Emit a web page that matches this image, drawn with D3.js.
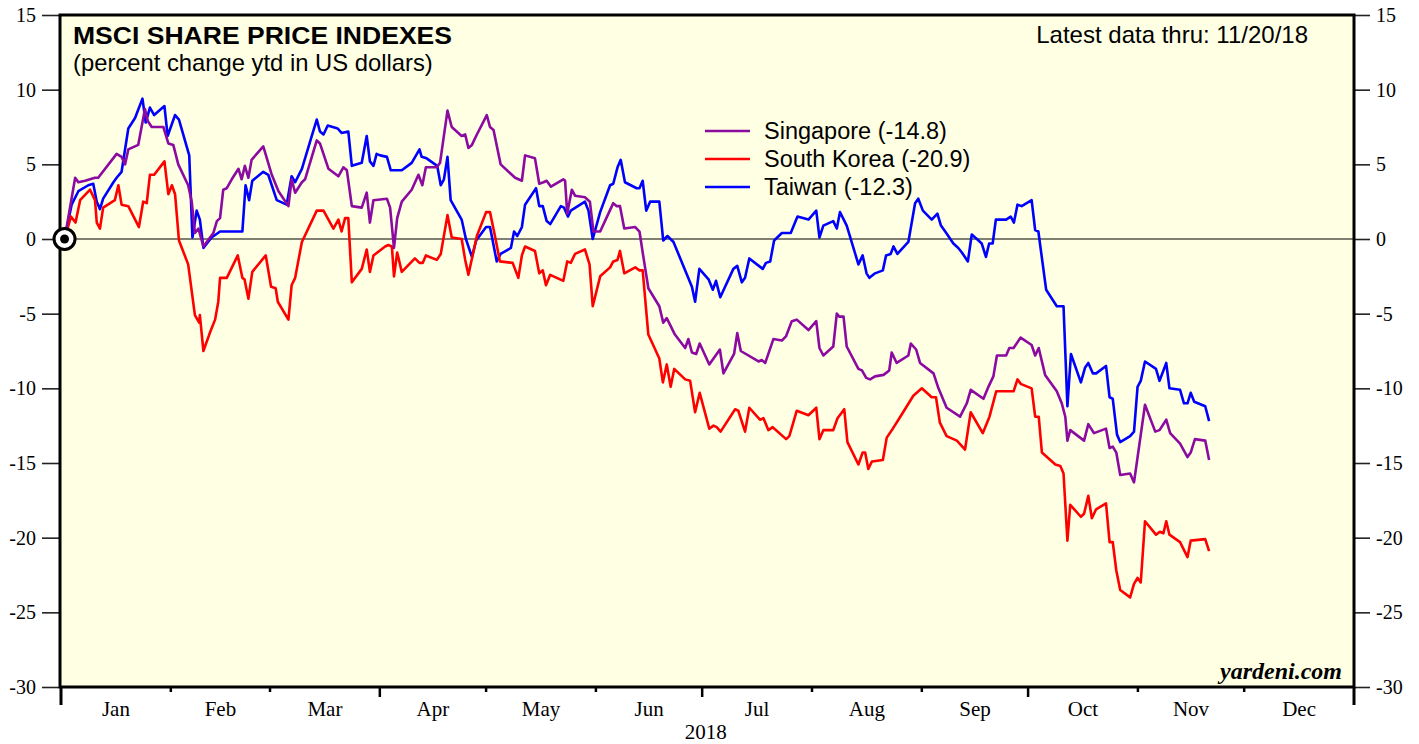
<!DOCTYPE html>
<html>
<head>
<meta charset="utf-8">
<script src="https://cdn.jsdelivr.net/npm/d3@7"></script>
<style>
  body { margin: 0; background: #fff; }
</style>
</head>
<body>
<div id="chart"></div>
<script>
// Data: [day of year 2018, percent change ytd]
const singapore = [[1,0],[1.6,0.8],[4.0,4.1],[4.9,3.8],[6.8,3.9],[9.6,4.1],[10.5,4.1],[15.7,5.7],[17.1,5.5],[18.1,5.0],[19.0,6.0],[21.8,6.3],[23.7,8.7],[24.5,7.9],[25.6,7.5],[28.9,7.5],[30.3,6.4],[31.7,6.3],[33.1,5.0],[35.9,3.6],[36.9,2.5],[37.8,0.4],[38.8,0.7],[40.2,-0.5],[43.0,0.4],[44.0,1.2],[44.9,1.4],[45.8,3.3],[46.8,3.4],[48.2,4.0],[50.1,4.7],[51.0,4.0],[51.9,4.9],[52.9,4.1],[53.8,5.3],[57.1,6.2],[59.5,4.3],[61.4,3.2],[64.2,2.2],[65.1,4.0],[66.1,3.1],[68.0,3.8],[68.9,4.0],[72.2,6.6],[73.1,6.4],[75.5,4.7],[78.3,4.2],[79.7,4.8],[80.7,4.6],[82.1,2.2],[84.9,2.1],[86.3,3.1],[87.2,1.1],[88.2,2.6],[92.0,2.7],[92.9,2.1],[94.0,-0.6],[94.9,1.4],[96.2,2.5],[99.0,3.3],[100.9,4.3],[102.0,3.6],[103.0,4.8],[106.1,4.8],[107.0,5.1],[109.1,8.6],[110.3,7.5],[113.1,6.9],[114.1,7.0],[115.0,6.1],[116.0,6.3],[117.4,7.0],[120.2,8.3],[121.1,7.5],[122.1,7.3],[124.1,5.0],[126.8,4.4],[128.2,4.1],[130.1,3.9],[131.0,5.6],[133.8,5.4],[135.0,3.7],[136.2,3.8],[137.1,3.9],[138.3,3.5],[141.8,4.0],[142.3,3.9],[142.9,1.7],[144.2,3.3],[145.1,2.9],[147.9,2.8],[149.3,2.5],[150.3,0.5],[152.2,0.5],[155.9,2.4],[156.9,2.2],[157.8,2.2],[159.0,0.7],[162.1,0.8],[163.3,0.5],[164.4,-1.2],[165.8,-3.3],[168.9,-4.5],[170.0,-5.6],[171.0,-5.3],[173.3,-6.4],[176.2,-7.3],[177.1,-6.7],[178.1,-7.6],[179.3,-7.7],[180.3,-7.0],[183.0,-8.4],[186.0,-7.4],[187.0,-9.0],[190.0,-7.7],[190.9,-6.3],[191.9,-7.5],[196.9,-8.2],[197.8,-8.1],[198.8,-8.3],[201.1,-6.7],[203.5,-6.8],[204.7,-6.5],[206.3,-5.5],[207.7,-5.4],[211.0,-6.1],[213.2,-5.5],[214.1,-7.3],[215.2,-7.8],[218.0,-7.2],[219.0,-5.0],[219.7,-5.2],[220.9,-5.2],[221.8,-7.2],[225.1,-8.7],[226.1,-8.8],[227.3,-9.3],[228.4,-9.4],[229.8,-9.2],[232.2,-9.1],[233.8,-8.8],[234.5,-7.6],[235.9,-8.3],[239.2,-7.8],[239.9,-7.0],[241.4,-7.4],[242.5,-8.3],[246.3,-9.0],[247.7,-10.0],[250.0,-11.3],[253.8,-11.9],[255.7,-11.0],[256.8,-10.1],[260.4,-10.7],[261.8,-9.9],[263.2,-9.2],[264.2,-7.8],[266.8,-7.8],[267.7,-7.3],[268.9,-7.3],[270.9,-6.6],[274.0,-7.1],[275.0,-7.8],[276.0,-7.3],[277.8,-9.1],[281.1,-10.2],[282.5,-11.0],[283.5,-11.9],[284.1,-13.5],[284.9,-12.8],[288.8,-13.5],[290.0,-12.4],[291.6,-13.0],[295.0,-12.7],[296.0,-14.0],[296.9,-13.9],[297.9,-14.3],[299.0,-15.8],[301.8,-15.7],[302.9,-16.3],[306.0,-11.1],[308.9,-12.9],[310.1,-12.8],[312.0,-12.1],[313.1,-13.0],[315.9,-13.7],[318.0,-14.6],[318.9,-14.3],[320.1,-13.4],[323.0,-13.5],[324.1,-14.8]];

const southKorea = [[1,0],[2.8,1.5],[4.1,1.1],[5.4,2.6],[8.2,3.3],[9.6,2.6],[10.1,1.1],[11.0,0.7],[11.9,2.1],[15.2,2.6],[16.2,3.6],[17.1,2.3],[19.0,2.2],[22.0,0.8],[23.2,2.5],[24.2,2.4],[25.1,4.3],[26.3,4.3],[29.2,5.2],[30.3,3.0],[31.3,3.6],[32.2,3.0],[33.3,-0.1],[35.9,-1.7],[37.8,-5.1],[39.0,-5.6],[39.2,-5.1],[40.2,-7.5],[42.0,-6.3],[43.5,-5.4],[44.4,-4.2],[44.9,-2.6],[46.8,-2.6],[49.9,-1.1],[51.2,-2.6],[51.8,-2.7],[52.9,-4.0],[54.0,-2.2],[57.8,-1.1],[59.3,-3.2],[60.6,-3.3],[61.2,-4.2],[64.2,-5.4],[65.1,-3.1],[66.1,-2.6],[68.0,-0.2],[72.2,1.9],[74.1,1.9],[76.9,0.7],[78.3,1.3],[79.2,0.5],[80.2,1.4],[81.1,1.4],[82.1,-2.9],[84.9,-2.0],[86.3,-0.7],[87.2,-2.2],[88.2,-1.1],[91.5,-0.5],[92.4,-0.4],[93.4,-0.5],[94.0,-2.5],[94.9,-0.9],[96.2,-2.2],[99.9,-1.3],[101.2,-1.6],[102.1,-1.6],[103.0,-1.1],[106.1,-1.4],[107.2,-1.0],[109.1,1.6],[110.3,0.1],[113.1,0.0],[114.1,-1.4],[115.0,-2.4],[117.4,0.2],[120.0,1.8],[121.1,1.8],[122.5,0.2],[123.9,-1.5],[127.5,-1.6],[129.1,-2.6],[130.1,-1.1],[131.0,-0.5],[133.8,-0.8],[135.0,-2.3],[136.0,-2.1],[136.9,-3.1],[138.1,-2.4],[141.8,-2.8],[142.9,-1.5],[143.9,-1.6],[145.1,-1.0],[147.9,-0.7],[149.2,-1.7],[150.1,-4.5],[152.2,-2.5],[155.0,-1.9],[155.9,-1.5],[157.1,-1.4],[157.8,-0.8],[159.0,-2.3],[162.1,-1.9],[163.3,-2.1],[164.2,-2.1],[165.8,-6.4],[168.9,-8.0],[169.9,-9.6],[171.0,-8.4],[172.1,-9.9],[173.1,-8.7],[176.2,-9.4],[177.6,-9.5],[179.0,-11.6],[180.3,-10.3],[183.0,-12.7],[184.2,-12.5],[185.1,-12.6],[186.2,-12.9],[190.3,-11.4],[191.2,-11.5],[193.1,-12.9],[194.3,-11.3],[197.3,-12.1],[198.3,-12.0],[199.7,-12.8],[200.9,-12.6],[204.7,-13.4],[205.6,-13.2],[207.7,-11.5],[211.0,-11.8],[213.2,-11.3],[214.1,-13.4],[215.2,-12.8],[218.0,-12.8],[219.2,-12.0],[221.1,-11.4],[222.0,-13.6],[225.1,-15.1],[226.3,-14.3],[227.0,-14.3],[227.9,-15.4],[228.9,-14.9],[232.0,-14.8],[233.1,-13.3],[234.8,-12.7],[236.4,-12.1],[240.6,-10.5],[243.0,-10.0],[245.8,-10.6],[247.0,-10.6],[248.1,-12.3],[250.0,-13.2],[252.9,-13.5],[255.2,-14.1],[256.8,-11.6],[260.2,-13.0],[262.1,-11.9],[264.0,-10.2],[268.9,-10.2],[270.0,-9.4],[270.9,-9.7],[274.0,-10.0],[275.0,-11.9],[276.0,-11.9],[276.9,-14.3],[280.7,-15.1],[282.1,-15.2],[283.0,-15.7],[284.1,-20.2],[284.9,-17.8],[287.9,-18.6],[288.8,-18.4],[290.0,-17.2],[291.0,-18.7],[292.2,-18.1],[295.0,-17.7],[296.0,-20.3],[296.9,-20.3],[297.9,-22.2],[299.0,-23.5],[301.8,-24.0],[302.9,-23.1],[303.9,-22.7],[304.8,-23.0],[306.0,-18.9],[309.1,-19.8],[310.2,-19.6],[311.2,-19.7],[312.0,-18.9],[312.9,-19.8],[315.9,-20.3],[318.0,-21.3],[318.9,-20.2],[323.0,-20.1],[324.1,-20.9]];

const taiwan = [[1,0],[3.0,2.3],[4.9,3.2],[7.7,3.6],[9.1,3.7],[10.1,2.5],[11.0,2.0],[11.9,2.7],[14.8,3.8],[15.7,4.1],[17.1,4.5],[19.0,7.4],[20.9,8.1],[23.0,9.4],[23.9,7.8],[25.1,8.8],[26.3,8.3],[29.2,8.9],[30.1,6.9],[32.2,8.3],[33.3,8.0],[36.2,5.6],[37.1,0.1],[38.3,1.9],[39.2,1.3],[40.2,-0.6],[42.5,0.1],[44.9,0.5],[51.2,0.5],[52.1,3.6],[53.1,2.6],[54.0,3.9],[57.1,4.5],[58.5,4.3],[60.9,2.6],[63.7,2.3],[65.1,4.2],[66.1,3.8],[68.0,4.7],[70.8,6.9],[72.2,8.0],[73.1,7.2],[74.1,7.0],[75.3,7.6],[78.1,7.4],[79.2,7.1],[81.1,7.2],[82.1,4.9],[84.9,5.1],[86.3,6.9],[87.2,5.2],[88.2,4.9],[89.1,5.7],[90.1,5.6],[92.0,5.5],[93.1,4.6],[96.2,4.6],[99.0,5.1],[101.2,6.0],[101.8,5.5],[103.2,5.4],[106.2,4.9],[107.2,3.6],[108.1,4.0],[109.1,5.5],[110.0,2.6],[113.1,1.3],[114.3,0.0],[116.0,-1.2],[117.2,-0.1],[120.0,0.8],[121.1,0.8],[123.0,-1.5],[124.1,-1.0],[127.0,-0.6],[127.9,0.5],[128.8,0.2],[130.1,0.8],[131.0,2.3],[134.1,3.4],[135.0,2.2],[136.0,2.2],[137.1,1.2],[138.1,1.0],[141.1,2.2],[142.0,2.1],[143.1,1.5],[143.9,1.9],[147.9,2.5],[148.9,1.9],[150.1,0.0],[152.2,1.8],[155.0,3.6],[155.9,3.7],[157.1,4.8],[158.0,5.3],[159.2,3.8],[162.5,3.4],[163.3,3.4],[164.2,3.9],[165.2,1.9],[166.3,2.5],[168.9,2.5],[170.0,-0.1],[171.2,0.2],[172.9,-0.2],[178.1,-3.2],[179.0,-4.2],[180.2,-2.0],[182.8,-2.7],[184.0,-3.4],[184.9,-2.8],[186.1,-3.9],[189.8,-2.0],[190.9,-1.8],[192.2,-2.9],[193.1,-2.6],[194.3,-1.3],[198.1,-2.0],[199.0,-1.6],[200.2,-1.5],[201.3,-0.1],[203.5,0.4],[206.0,0.4],[207.9,1.5],[211.0,1.3],[213.2,1.9],[214.1,0.1],[215.2,0.9],[218.0,1.2],[219.0,0.7],[219.9,1.8],[221.8,0.9],[225.1,-1.7],[226.3,-1.1],[227.4,-2.3],[228.2,-2.6],[229.8,-2.3],[232.0,-2.1],[232.9,-1.1],[234.2,-1.0],[235.0,-0.5],[236.1,-1.0],[239.2,-0.2],[241.1,2.4],[242.0,2.7],[243.3,1.9],[245.8,1.3],[247.4,1.7],[248.4,0.9],[249.9,0.4],[251.9,-0.3],[253.3,-0.6],[254.3,-0.9],[256.0,-1.5],[257.1,0.3],[259.0,-0.1],[259.9,-0.3],[261.1,-1.2],[262.0,-0.3],[263.0,-0.3],[263.9,1.3],[266.8,1.3],[268.1,1.5],[269.0,1.1],[270.0,2.3],[271.2,2.2],[274.0,2.6],[275.0,0.6],[275.9,0.5],[278.1,-3.4],[281.1,-4.5],[283.0,-4.5],[284.1,-11.2],[285.1,-7.7],[287.9,-9.6],[289.1,-8.6],[290.0,-8.3],[291.3,-9.0],[292.2,-9.0],[295.0,-8.5],[296.0,-10.6],[296.9,-10.7],[298.1,-13.1],[299.0,-13.6],[301.8,-13.2],[302.9,-12.9],[303.9,-9.9],[304.8,-9.5],[306.0,-8.2],[309.1,-8.7],[310.1,-9.5],[312.0,-8.3],[312.9,-10.0],[315.9,-10.1],[317.0,-11.0],[318.0,-11.0],[318.9,-10.3],[319.9,-10.9],[323.0,-11.2],[324.1,-12.2]];

const seriesNames = ["Singapore (-14.8)", "South Korea (-20.9)", "Taiwan (-12.3)"];
const seriesColors = ["#8b0aa0", "#ff0000", "#0000ff"];
const monthLabels = ["Jan","Feb","Mar","Apr","May","Jun","Jul","Aug","Sep","Oct","Nov","Dec"];
const yTicks = [15, 10, 5, 0, -5, -10, -15, -20, -25, -30];

// Setup
const W = 1419, H = 744;
const plot = { left: 60, right: 1354, top: 15, bottom: 687 };
const start = new Date(2018, 0, 1);
const toDate = d => new Date(start.getTime() + d * 864e5);

const svg = d3.select("#chart")
    .append("svg")
    .attr("width", W)
    .attr("height", H);

const x = d3.scaleTime()
    .domain([start, new Date(2019, 0, 1)])
    .range([61, plot.right]);

const y = d3.scaleLinear()
    .domain([-30, 15])
    .range([plot.bottom, plot.top]);

const serif = "'Liberation Serif', 'Times New Roman', serif";
const sans = "'Liberation Sans', Arial, Helvetica, sans-serif";

// Plot background
svg.append("rect")
    .attr("x", plot.left)
    .attr("y", plot.top)
    .attr("width", plot.right - plot.left)
    .attr("height", plot.bottom - plot.top)
    .attr("fill", "#ffffe4");

// Zero line
svg.append("line")
    .attr("x1", plot.left)
    .attr("x2", plot.right)
    .attr("y1", y(0))
    .attr("y2", y(0))
    .attr("stroke", "#000")
    .attr("stroke-width", 1.2);

// Y axes (plain hyphen for negatives, like the original)
const fmt = d => String(d);
const leftAxis = svg.append("g")
    .attr("transform", `translate(${plot.left - 1},0)`)
    .call(d3.axisLeft(y).tickValues(yTicks).tickFormat(fmt).tickSize(17).tickPadding(6));
const rightAxis = svg.append("g")
    .attr("transform", `translate(${plot.right},0)`)
    .call(d3.axisRight(y).tickValues(yTicks).tickFormat(fmt).tickSize(16).tickPadding(6));
[leftAxis, rightAxis].forEach(g => {
    g.select(".domain").remove();
    g.selectAll("line").attr("stroke", "#222").attr("stroke-width", 1.6);
    g.selectAll("text")
        .style("font-family", serif)
        .style("font-size", "20px")
        .attr("fill", "#000");
});

// Bottom month ticks
const months = d3.timeMonth.range(start, new Date(2019, 0, 2));
svg.append("g")
    .selectAll("line")
    .data(months)
    .join("line")
    .attr("x1", d => x(d))
    .attr("x2", d => x(d))
    .attr("y1", plot.bottom)
    .attr("y2", d => plot.bottom + (d.getMonth() === 0 ? 18 : d.getMonth() % 3 === 0 ? 10 : 5))
    .attr("stroke", "#000")
    .attr("stroke-width", d => d.getMonth() === 0 ? 3 : 2.5);

// Month labels, centred in each month
svg.append("g")
    .selectAll("text")
    .data(months.slice(0, 12))
    .join("text")
    .attr("x", d => x(new Date((d.getTime() + d3.timeMonth.offset(d, 1).getTime()) / 2)))
    .attr("y", 716)
    .attr("text-anchor", "middle")
    .style("font-family", serif)
    .style("font-size", "21px")
    .text((d, i) => monthLabels[i]);

svg.append("text")
    .attr("x", x(new Date(2018, 6, 2)))
    .attr("y", 739)
    .attr("text-anchor", "middle")
    .style("font-family", serif)
    .style("font-size", "21px")
    .text("2018");

// Lines
const line = d3.line()
    .x(d => x(toDate(d[0])))
    .y(d => y(d[1]));

[taiwan, southKorea, singapore].forEach((s, i) => {
    const ci = [2, 1, 0][i];
    svg.append("path")
        .datum(s)
        .attr("fill", "none")
        .attr("stroke", seriesColors[ci])
        .attr("stroke-width", 2.6)
        .attr("stroke-linejoin", "round")
        .attr("d", line);
});

// Frame
svg.append("rect")
    .attr("x", plot.left)
    .attr("y", plot.top)
    .attr("width", plot.right - plot.left)
    .attr("height", plot.bottom - plot.top)
    .attr("fill", "none")
    .attr("stroke", "#000")
    .attr("stroke-width", 3);

// Start marker
const s0 = singapore[0];
svg.append("circle")
    .attr("cx", x(toDate(s0[0])))
    .attr("cy", y(s0[1]))
    .attr("r", 10.5)
    .attr("fill", "#fff")
    .attr("stroke", "#000")
    .attr("stroke-width", 3);
svg.append("circle")
    .attr("cx", x(toDate(s0[0])))
    .attr("cy", y(s0[1]))
    .attr("r", 4.5)
    .attr("fill", "#000");

// Titles
svg.append("text")
    .attr("x", 73)
    .attr("y", 44)
    .attr("textLength", 379)
    .attr("lengthAdjust", "spacingAndGlyphs")
    .style("font-family", sans)
    .style("font-size", "24px")
    .style("font-weight", "bold")
    .text("MSCI SHARE PRICE INDEXES");

svg.append("text")
    .attr("x", 73)
    .attr("y", 71)
    .style("font-family", sans)
    .style("font-size", "23.8px")
    .text("(percent change ytd in US dollars)");

svg.append("text")
    .attr("x", 1308)
    .attr("y", 43)
    .attr("text-anchor", "end")
    .style("font-family", sans)
    .style("font-size", "24px")
    .text("Latest data thru: 11/20/18");

// Legend
const legend = svg.append("g").attr("transform", "translate(705,131)");
seriesNames.forEach((name, i) => {
    legend.append("line")
        .attr("x1", 0).attr("x2", 45)
        .attr("y1", i * 28).attr("y2", i * 28)
        .attr("stroke", seriesColors[i])
        .attr("stroke-width", 2.6);
    legend.append("text")
        .attr("x", 59)
        .attr("y", i * 28 + 8)
        .style("font-family", sans)
        .style("font-size", "23.5px")
        .text(name);
});

// Source
svg.append("text")
    .attr("x", 1342)
    .attr("y", 679)
    .attr("text-anchor", "end")
    .style("font-family", serif)
    .style("font-size", "24px")
    .style("font-weight", "bold")
    .style("font-style", "italic")
    .text("yardeni.com");
</script>
</body>
</html>
